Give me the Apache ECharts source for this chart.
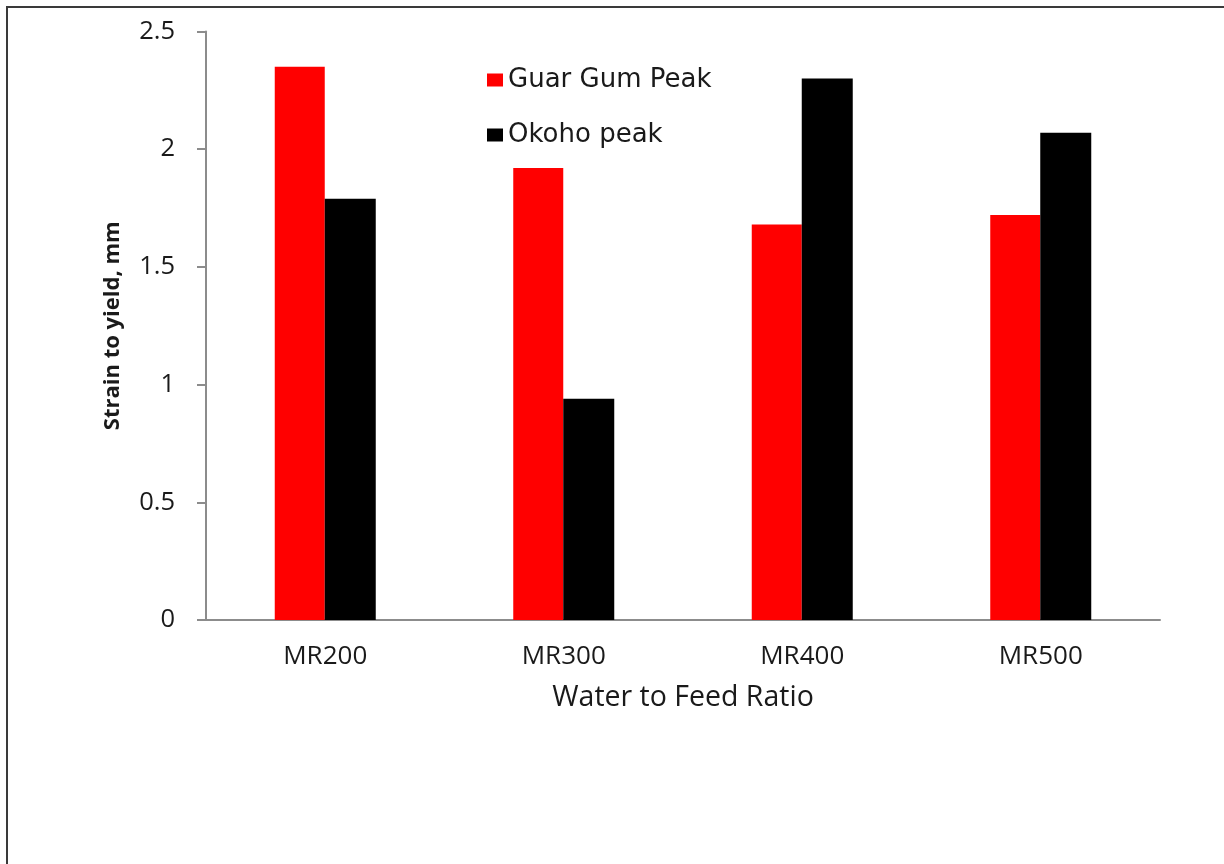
<!DOCTYPE html>
<html>
<head>
<meta charset="utf-8">
<style>
  html, body { margin: 0; padding: 0; background: #fff; overflow: hidden; }
  #chart { width: 1224px; height: 864px; }
</style>
<script src="https://cdn.jsdelivr.net/npm/echarts@6/dist/echarts.min.js"></script>
</head>
<body>
<div id="chart"></div>
<script>
// Water-to-feed ratio categories
const categories = ['MR200', 'MR300', 'MR400', 'MR500'];
// Strain to yield (mm) for each additive
const guarGumPeak = [2.35, 1.92, 1.68, 1.72];
const okohoPeak = [1.79, 0.94, 2.30, 2.07];
// Value axis ticks
const yTicks = { min: 0, max: 2.5, interval: 0.5 };

const chart = echarts.init(document.getElementById('chart'), null, { renderer: 'canvas' });

const axisGray = '#8c8c8c';
const textColor = '#1a1a1a';

chart.setOption({
  animation: false,
  backgroundColor: '#ffffff',
  graphic: [{
    type: 'rect',
    shape: { x: 7, y: 7, width: 1400, height: 1000 },
    style: { fill: 'none', stroke: '#3a3a3a', lineWidth: 2 },
    silent: true
  }],
  grid: { left: 206, right: 64, top: 31.5, bottom: 244, containLabel: false },
  legend: {
    orient: 'vertical',
    left: 482,
    top: 62,
    itemWidth: 16,
    itemHeight: 13,
    itemGap: 29,
    icon: 'rect',
    textStyle: { fontFamily: 'DejaVu Sans', fontSize: 26, color: textColor, padding: [0, 0, 0, 0] },
    data: ['Guar Gum Peak', 'Okoho peak']
  },
  xAxis: {
    type: 'category',
    data: categories,
    name: 'Water to Feed Ratio',
    nameLocation: 'middle',
    nameGap: 63,
    nameTextStyle: { fontFamily: 'Open Sans', fontSize: 28.5, color: textColor },
    axisLine: { show: true, lineStyle: { color: axisGray, width: 2 } },
    axisTick: { show: false },
    axisLabel: { fontFamily: 'Open Sans', fontSize: 26, color: textColor, margin: 24 },
    splitLine: { show: false }
  },
  yAxis: {
    type: 'value',
    min: yTicks.min,
    max: yTicks.max,
    interval: yTicks.interval,
    name: 'Strain to yield, mm',
    nameLocation: 'middle',
    nameGap: 82,
    nameTextStyle: { fontFamily: 'Open Sans', fontWeight: 'bold', fontSize: 22, color: textColor },
    axisLine: { show: true, lineStyle: { color: axisGray, width: 2 } },
    axisTick: { show: true, inside: false, length: 9, lineStyle: { color: axisGray, width: 2 } },
    axisLabel: {
      fontFamily: 'Open Sans', fontSize: 25.5, color: textColor, margin: 31,
      formatter: v => String(v)
    },
    splitLine: { show: false }
  },
  series: [
    {
      name: 'Guar Gum Peak',
      type: 'bar',
      data: guarGumPeak,
      barWidth: 50,
      barGap: '0%',
      itemStyle: { color: '#ff0000' }
    },
    {
      name: 'Okoho peak',
      type: 'bar',
      data: okohoPeak,
      barWidth: 51,
      barGap: '0%',
      itemStyle: { color: '#000000' }
    }
  ]
});
</script>
</body>
</html>
